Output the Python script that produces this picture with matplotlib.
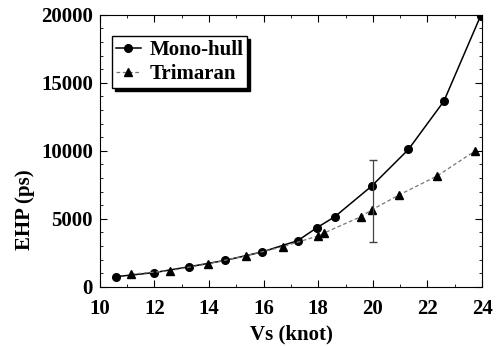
import numpy as np
import matplotlib.pyplot as plt
from matplotlib.ticker import MultipleLocator

plt.rcParams['font.family'] = ['Liberation Serif', 'DejaVu Serif']
plt.rcParams['font.weight'] = 'bold'

# Mono-hull
mono_vs = [10.6, 12.0, 13.25, 14.6, 15.95, 17.25, 17.95, 18.6, 19.95, 21.3, 22.6, 23.95]
mono_ehp = [750, 1050, 1470, 1950, 2570, 3400, 4350, 5150, 7400, 10100, 13650, 19950]

# Trimaran
tri_vs = [11.15, 12.55, 13.95, 15.35, 16.7, 18.0, 18.2, 19.55, 19.95, 20.95, 22.35, 23.75]
tri_ehp = [930, 1180, 1690, 2280, 2950, 3750, 3950, 5150, 5650, 6750, 8150, 10000]

# error bar at 20 knots
err_vs = 20.0
err_lo = 3300
err_hi = 9300

fig = plt.figure(figsize=(4.97, 3.46), dpi=100)
ax = fig.add_axes([0.201, 0.171, 0.769, 0.786])

ax.plot(mono_vs, mono_ehp, '-', color='black', lw=1.1, marker='o', ms=5.5,
        label='Mono-hull')
ax.plot(tri_vs, tri_ehp, linestyle=(0, (3, 2)), color='#777777', lw=0.9,
        marker='^', ms=5.5, mfc='black', mec='black', label='Trimaran')
ax.errorbar([err_vs], [(err_lo + err_hi) / 2], yerr=[[(err_hi - err_lo) / 2]],
            fmt='none', ecolor='#444444', elinewidth=0.9, capsize=3)

ax.set_xlim(10, 24)
ax.set_ylim(0, 20000)
ax.xaxis.set_major_locator(MultipleLocator(2))
ax.xaxis.set_minor_locator(MultipleLocator(1))
ax.yaxis.set_major_locator(MultipleLocator(5000))
ax.yaxis.set_minor_locator(MultipleLocator(1000))
ax.tick_params(which='both', direction='in', top=True, right=True, labelsize=15)
ax.tick_params(which='major', length=5)
ax.tick_params(which='minor', length=2.5)
ax.tick_params(axis='x', pad=9)
ax.tick_params(axis='y', pad=5)

ax.set_xlabel('Vs (knot)', fontsize=15, fontweight='bold', labelpad=4)
ax.set_ylabel('EHP (ps)', fontsize=15, fontweight='bold')
ax.yaxis.set_label_coords(-0.17, 0.283)

leg = ax.legend(loc='upper left', bbox_to_anchor=(0.031, 0.923), fontsize=15,
                frameon=True, fancybox=False, handlelength=1.2,
                shadow={'color': 'black', 'alpha': 1.0},
                handletextpad=0.4, borderpad=0.2, labelspacing=0.2,
                borderaxespad=0, edgecolor='black', framealpha=1)
leg.get_frame().set_linewidth(1.0)

fig.savefig('out.png', dpi=100)
